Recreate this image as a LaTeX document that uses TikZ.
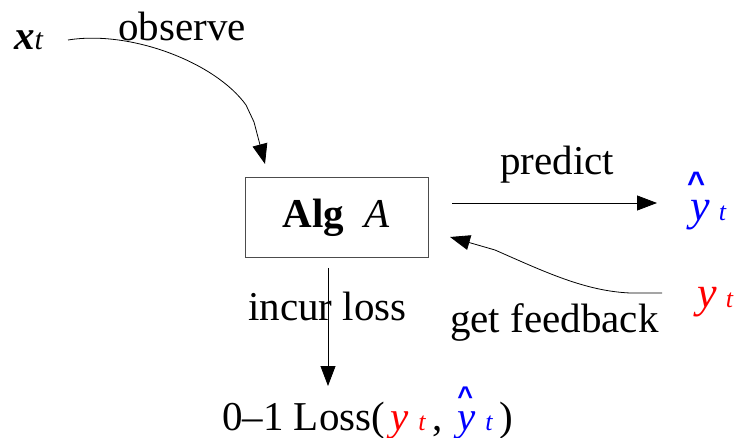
\documentclass[tikz,border=0pt]{standalone}
\usepackage{fontspec}
\setmainfont{Liberation Serif}
\newfontfamily\sansf{Liberation Sans}
\usetikzlibrary{arrows.meta}
\definecolor{myred}{RGB}{255,0,0}
\definecolor{myblue}{RGB}{0,0,255}
\newcommand\subt{{\fontsize{26}{26}\selectfont\textit{t}}}
\newcommand\yhat[3]{\makebox[0pt][l]{\hspace{#1}\raisebox{#2}{\sansf\bfseries\fontsize{#3}{#3}\selectfont\textasciicircum}}\textit{y}}
\begin{document}
\begin{tikzpicture}[x=1pt,y=-1pt,
  every node/.style={inner sep=0pt, font=\fontsize{41}{45}\selectfont},
  lbl/.style={anchor=base west},
  arr/.style={-{Triangle[length=20pt,width=15pt]}, line width=0.8pt},
  box/.style={draw=black!70, line width=1pt, minimum width=183pt, minimum height=80pt}]
\useasboundingbox (0,0) rectangle (739,438);
% nodes
\node[lbl] (xt) at (14,50) {\textbf{\textit{x}}{\fontsize{30}{30}\selectfont\textit{t}}};
\node[lbl] (obs) at (118,41) {observe};
\node[box] (alg) at (336.5,218) {\textbf{Alg}\hspace{0.5em}\textit{A}};
\node[lbl] (pred) at (500,175) {predict};
\node[lbl, text=myblue] (yhat) at (690,221) {{\fontsize{44}{44}\selectfont\yhat{-3pt}{27pt}{31}}\hspace{9pt}\subt};
\node[lbl, text=myred] (ytr) at (697,308) {{\fontsize{44}{44}\selectfont\textit{y}}\hspace{9pt}\subt};
\node[lbl] (fb) at (450,333) {get feedback};
\node[lbl] (inc) at (248,320) {incur loss};
\node[lbl] (loss) at (222,430) {0–1 Loss(\hspace{5pt}{\color{myred}\textit{y}\hspace{10pt}\subt}\hspace{6pt},\hspace{15pt}{\color{myblue}\yhat{0pt}{25pt}{27}\hspace{10pt}\subt}\hspace{6pt})};
% connector ends
\coordinate (obsS) at (68,40);
\coordinate (obsE) at (265,164);
\coordinate (predS) at (452,203);
\coordinate (predE) at (657,203);
\coordinate (fbS) at (662,293);
\coordinate (fbE) at (450,237);
\coordinate (incS) at (328,268);
\coordinate (incE) at (328,386);
% connectors
\draw[arr] (obsS) .. controls (130,30) and (215,62) .. (246,105) -- (254,122) -- (obsE);
\draw[arr] (predS) -- (predE);
\draw[arr] (fbS) -- (630,293) .. controls (585,291) and (545,272) .. (495,250) -- (fbE);
\draw[arr] (incS) -- (incE);
\end{tikzpicture}
\end{document}
